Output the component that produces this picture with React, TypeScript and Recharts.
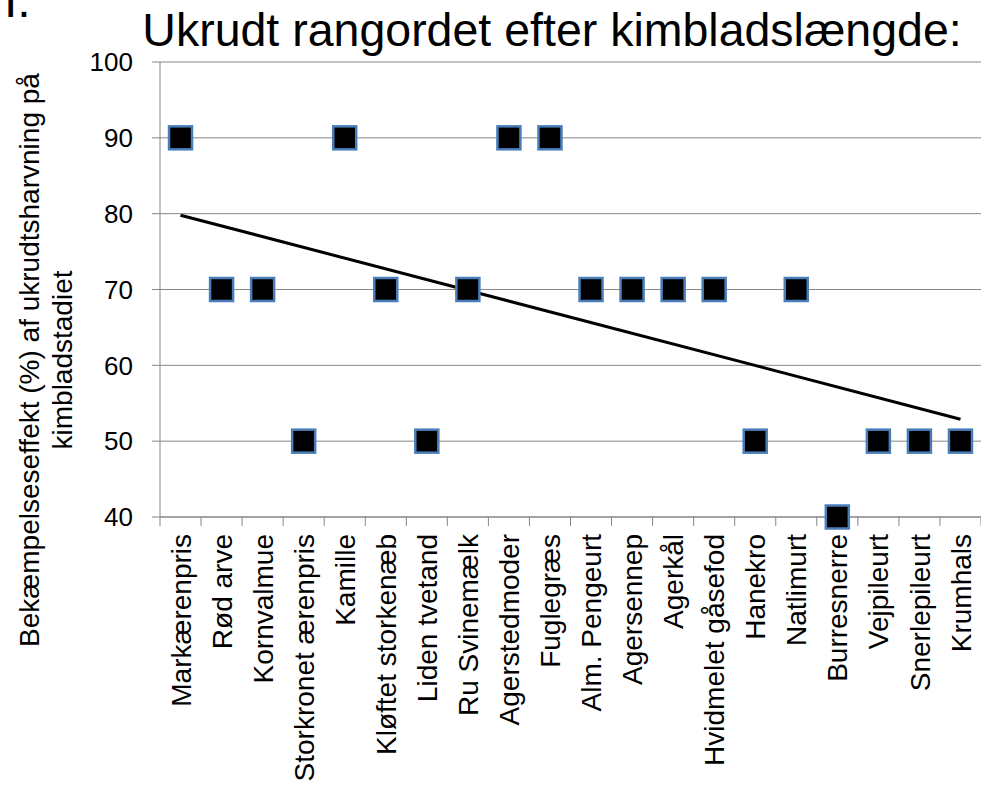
import React from "react";
import { ComposedChart, XAxis, YAxis, CartesianGrid, Line, Scatter, Label } from "recharts";

const categories: string[] = [
  "Markærenpris", "Rød arve", "Kornvalmue", "Storkronet ærenpris", "Kamille",
  "Kløftet storkenæb", "Liden tvetand", "Ru Svinemælk", "Agerstedmoder", "Fuglegræs",
  "Alm. Pengeurt", "Agersennep", "Agerkål", "Hvidmelet gåsefod", "Hanekro",
  "Natlimurt", "Burresnerre", "Vejpileurt", "Snerlepileurt", "Krumhals",
];
const effectValues: number[] = [90, 70, 70, 50, 90, 70, 50, 70, 90, 90, 70, 70, 70, 70, 50, 70, 40, 50, 50, 50];
const trendStart = 79.8;
const trendEnd = 52.9;
const yTicks: number[] = [40, 50, 60, 70, 80, 90, 100];

const data = categories.map((name, i) => ({
  idx: i + 1,
  name,
  value: effectValues[i],
  trend: i === 0 ? trendStart : i === categories.length - 1 ? trendEnd : null,
}));
const xTicks = data.map((d) => d.idx);

const W = 981;
const H = 786;
const PLOT_LEFT = 160;
const PLOT_RIGHT = 981;
const HALF_BAND = (PLOT_RIGHT - PLOT_LEFT) / categories.length / 2;
const FONT = "'Liberation Sans', Arial, sans-serif";
const GRID = "#868686";

const XTick = (props: any) => {
  const { x, y, payload } = props;
  const i = payload.value - 1;
  const isLast = i === categories.length - 1;
  return (
    <g>
      <line x1={x - HALF_BAND} x2={x - HALF_BAND} y1={y} y2={y + 9} stroke={GRID} strokeWidth={1} />
      {isLast && <line x1={x + HALF_BAND} x2={x + HALF_BAND} y1={y} y2={y + 9} stroke={GRID} strokeWidth={1} />}
      <text
        transform={`translate(${x},${y + 17}) rotate(-90)`}
        textAnchor="end"
        dy="0.36em"
        fontSize={28}
        fontFamily={FONT}
        fill="#000"
      >
        {categories[i]}
      </text>
    </g>
  );
};

const SquareMarker = (props: any) => {
  const { cx, cy } = props;
  const s = 23;
  return <rect x={cx - s / 2} y={cy - s / 2} width={s} height={s} fill="#000" stroke="#4a7ebb" strokeWidth={2.5} />;
};

const YLabel = () => {
  const cx = 39;
  const cy = 360;
  return (
    <text transform={`rotate(-90, ${cx}, ${cy})`} x={cx} y={cy} textAnchor="middle" fontSize={28} fontFamily={FONT} fill="#000">
      <tspan x={cx} dy={0}>Bekæmpelseseffekt (%) af ukrudtsharvning på</tspan>
      <tspan x={cx} dy={33}>kimbladstadiet</tspan>
    </text>
  );
};

export default function App() {
  return (
    <div style={{ position: "absolute", left: 0, top: 0, width: W, height: H, background: "#fff" }}>
      <svg width={W} height={H} style={{ position: "absolute", left: 0, top: 0, pointerEvents: "none" }}>
        <text x={4} y={17} fontSize={48} fontFamily={FONT} fill="#000">I.</text>
        <text x={552} y={46} textAnchor="middle" fontSize={46.5} fontFamily={FONT} fill="#000">
          Ukrudt rangordet efter kimbladslængde:
        </text>
      </svg>
      <div style={{ position: "absolute", left: 0, top: 0 }}>
        <ComposedChart width={W} height={H} data={data} margin={{ top: 62, right: 0, left: 0, bottom: 0 }}>
          <CartesianGrid vertical={false} stroke={GRID} strokeWidth={1} />
          <XAxis
            dataKey="idx"
            type="number"
            domain={[0.5, 20.5]}
            ticks={xTicks}
            interval={0}
            height={269}
            tickLine={false}
            tickSize={0}
            tickMargin={0}
            axisLine={{ stroke: GRID, strokeWidth: 1 }}
            tick={<XTick />}
          />
          <YAxis
            type="number"
            domain={[40, 100]}
            ticks={yTicks}
            width={160}
            tickSize={8}
            tickMargin={19}
            axisLine={{ stroke: GRID, strokeWidth: 1 }}
            tickLine={{ stroke: GRID, strokeWidth: 1 }}
            tick={{ fontSize: 26, fontFamily: FONT, fill: "#000" }}
          >
            <Label content={<YLabel />} />
          </YAxis>
          <Line
            dataKey="trend"
            connectNulls
            stroke="#000"
            strokeWidth={3}
            dot={false}
            activeDot={false}
            isAnimationActive={false}
            legendType="none"
          />
          <Scatter dataKey="value" shape={<SquareMarker />} isAnimationActive={false} />
        </ComposedChart>
      </div>
    </div>
  );
}
